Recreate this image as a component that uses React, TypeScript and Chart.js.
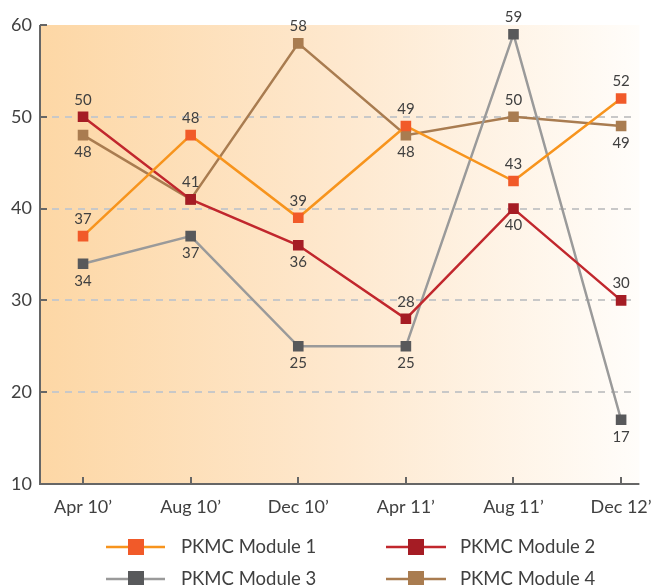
import React, { useEffect, useRef } from "react";
import { Chart, registerables } from "chart.js";

Chart.register(...registerables);

const categories = ["Apr 10\u2019", "Aug 10\u2019", "Dec 10\u2019", "Apr 11\u2019", "Aug 11\u2019", "Dec 12\u2019"];
const module1 = [37, 48, 39, 49, 43, 52];
const module2 = [50, 41, 36, 28, 40, 30];
const module3 = [34, 37, 25, 25, 59, 17];
const module4 = [48, 41, 58, 48, 50, 49];
// label placement: a = above, b = below, n = none
const pos1 = ["a", "a", "a", "a", "a", "a"];
const pos2 = ["a", "a", "b", "a", "b", "a"];
const pos3 = ["b", "b", "b", "b", "a", "b"];
const pos4 = ["b", "n", "a", "b", "a", "b"];
const seriesNames = ["PKMC Module 1", "PKMC Module 2", "PKMC Module 3", "PKMC Module 4"];
const lineColors = ["#F7941D", "#C1272D", "#9A9A9A", "#A97C50"];
const markerColors = ["#F15A29", "#A51C24", "#58595B", "#A97C50"];
const yTicks = [10, 20, 30, 40, 50, 60];

const FONT = "Lato, 'Open Sans', sans-serif";
const TEXT = "#404040";

export default function App() {
  const ref = useRef<HTMLCanvasElement>(null);
  useEffect(() => {
    document.body.style.margin = "0";
    const values = [module1, module2, module3, module4];
    const positions = [pos1, pos2, pos3, pos4];
    const datasets = values.map((vals, i) => ({
      label: seriesNames[i],
      data: vals.map((v, j) => ({ x: j, y: v })),
      borderColor: lineColors[i],
      backgroundColor: markerColors[i],
      pointBackgroundColor: markerColors[i],
      pointBorderColor: markerColors[i],
      pointStyle: "rect" as const,
      pointRadius: 7.5,
      pointBorderWidth: 0,
      borderWidth: 2.5,
      tension: 0,
    }));

    const decor = {
      id: "decor",
      beforeDatasetsDraw(chart: any) {
        const { ctx, chartArea: a, scales } = chart;
        const ys = scales.y;
        const xs = scales.x;
        ctx.save();
        const g = ctx.createLinearGradient(a.left, 0, a.right, 0);
        g.addColorStop(0, "rgb(253,215,165)");
        g.addColorStop(0.5, "rgb(254,232,206)");
        g.addColorStop(1, "rgb(255,253,250)");
        ctx.fillStyle = g;
        ctx.fillRect(a.left, a.top, a.right - a.left, a.bottom - a.top);
        // dashed grid
        ctx.strokeStyle = "#C8C8C8";
        ctx.lineWidth = 2;
        ctx.setLineDash([7, 6]);
        [20, 30, 40, 50].forEach((v) => {
          const y = Math.round(ys.getPixelForValue(v));
          ctx.beginPath();
          ctx.moveTo(a.left + 12, y);
          ctx.lineTo(a.right - 8, y);
          ctx.stroke();
        });
        ctx.setLineDash([]);
        // axes
        ctx.strokeStyle = "#666666";
        ctx.lineWidth = 2;
        ctx.beginPath();
        ctx.moveTo(a.left, a.top);
        ctx.lineTo(a.left, a.bottom);
        ctx.lineTo(a.right, a.bottom);
        ctx.stroke();
        // inside ticks
        yTicks.forEach((v) => {
          if (v === 10) return;
          const y = Math.round(ys.getPixelForValue(v));
          ctx.beginPath();
          ctx.moveTo(a.left, y);
          ctx.lineTo(a.left + 7, y);
          ctx.stroke();
        });
        categories.forEach((_, j) => {
          const x = Math.round(xs.getPixelForValue(j));
          ctx.beginPath();
          ctx.moveTo(x, a.bottom);
          ctx.lineTo(x, a.bottom - 7);
          ctx.stroke();
        });
        ctx.restore();
      },
      afterDatasetsDraw(chart: any) {
        const { ctx, scales } = chart;
        ctx.save();
        ctx.font = `15px ${FONT}`;
        ctx.fillStyle = TEXT;
        ctx.textAlign = "center";
        ctx.textBaseline = "middle";
        values.forEach((vals, i) => {
          vals.forEach((v, j) => {
            const p = positions[i][j];
            if (p === "n") return;
            const x = scales.x.getPixelForValue(j);
            const y = scales.y.getPixelForValue(v);
            ctx.fillText(String(v), x, p === "a" ? y - 17 : y + 17);
          });
        });
        // legend
        const cols = [
          { lx0: 106, lx1: 165, mx: 136, tx: 181 },
          { lx0: 386, lx1: 446, mx: 416, tx: 460 },
        ];
        const rows = [547, 579];
        ctx.font = `18.5px ${FONT}`;
        ctx.textAlign = "left";
        seriesNames.forEach((name, i) => {
          const c = cols[i % 2];
          const y = rows[Math.floor(i / 2)];
          ctx.strokeStyle = lineColors[i];
          ctx.lineWidth = 2.5;
          ctx.beginPath();
          ctx.moveTo(c.lx0, y);
          ctx.lineTo(c.lx1, y);
          ctx.stroke();
          ctx.fillStyle = markerColors[i];
          ctx.fillRect(c.mx - 8, y - 8, 16, 16);
          ctx.fillStyle = TEXT;
          ctx.fillText(name, c.tx, y);
        });
        ctx.restore();
      },
    };

    const chart = new Chart(ref.current!, {
      type: "line",
      data: { datasets },
      options: {
        responsive: false,
        animation: false,
        layout: { padding: { top: 25, right: 13, left: 0, bottom: 0 } },
        plugins: { legend: { display: false }, tooltip: { enabled: false } },
        scales: {
          x: {
            type: "linear",
            min: -0.4,
            max: 5.17,
            afterBuildTicks: (s: any) => {
              s.ticks = categories.map((_, j) => ({ value: j }));
            },
            afterFit: (s: any) => {
              s.height = 101;
            },
            grid: { display: false, drawTicks: false },
            border: { display: false },
            ticks: {
              autoSkip: false,
              maxRotation: 0,
              padding: 12,
              color: TEXT,
              font: { family: FONT, size: 18 },
              callback: (v: any) => categories[v as number] ?? "",
            },
          },
          y: {
            min: 10,
            max: 60,
            afterBuildTicks: (s: any) => {
              s.ticks = yTicks.map((v) => ({ value: v }));
            },
            afterFit: (s: any) => {
              s.width = 40;
            },
            grid: { display: false, drawTicks: false },
            border: { display: false },
            ticks: {
              padding: 8,
              color: TEXT,
              font: { family: FONT, size: 18 },
            },
          },
        },
      },
      plugins: [decor],
    });
    return () => chart.destroy();
  }, []);
  return <canvas ref={ref} width={664} height={585} style={{ display: "block" }} />;
}
